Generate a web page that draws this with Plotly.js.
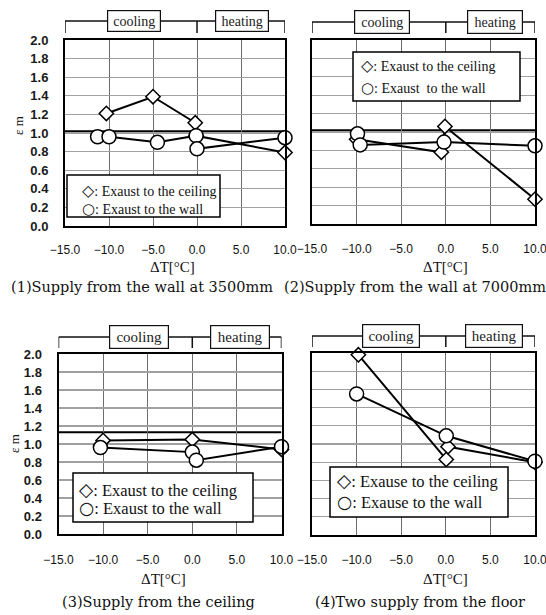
<!DOCTYPE html>
<html><head><meta charset="utf-8">
<script src="https://cdn.plot.ly/plotly-3.0.1.min.js"></script>
<style>html,body{margin:0;padding:0;background:#fff;}#chart{width:546px;height:615px;}</style>
</head><body><div id="chart"></div>
<script>
// ---------------- data ----------------
const xTickVals = [-15, -10, -5, 0, 5, 10];
const xTickText = ['\u221215.0', '\u221210.0', '\u22125.0', '0.0', '5.0', '10.0'];
const yTickVals = [0, 0.2, 0.4, 0.6, 0.8, 1.0, 1.2, 1.4, 1.6, 1.8, 2.0];
const yTickText = ['0.0', '0.2', '0.4', '0.6', '0.8', '1.0', '1.2', '1.4', '1.6', '1.8', '2.0'];

// (1) Supply from the wall at 3500mm
const p1CeilX = [-10.3, -5, -0.2, -0.1, 10];
const p1CeilY = [1.21, 1.39, 1.11, 0.97, 0.79];
const p1WallX = [-11.3, -10, -4.5, -0.1, 0, 10];
const p1WallY = [0.96, 0.96, 0.90, 0.97, 0.83, 0.95];

// (2) Supply from the wall at 7000mm
const p2CeilX = [-10, -0.5, -0.1, 10];
const p2CeilY = [0.92, 0.78, 1.06, 0.27];
const p2WallX = [-9.9, -9.6, -0.2, 10];
const p2WallY = [0.98, 0.86, 0.89, 0.85];

// (3) Supply from the ceiling
const p3CeilX = [-10, 0, 10];
const p3CeilY = [1.04, 1.05, 0.94];
const p3WallX = [-10.3, 0, 0.45, 10];
const p3WallY = [0.96, 0.91, 0.82, 0.97];

// (4) Two supply from the floor
const p4CeilX = [-9.8, 0.05, 0.25, 10];
const p4CeilY = [1.98, 0.83, 0.97, 0.80];
const p4WallX = [-10, 0.05, 10];
const p4WallY = [1.55, 1.09, 0.81];

const refLineY = [1.02, 1.02, 1.13, 1.0];

const captions = ['(1)Supply from the wall at 3500mm', '(2)Supply from the wall at 7000mm',
                  '(3)Supply from the ceiling', '(4)Two supply from the floor'];
const legendCeil = [': Exaust to the ceiling', ': Exaust to the ceiling',
                    ': Exaust to the ceiling', ': Exause to the ceiling'];
const legendWall = [': Exaust to the wall', ': Exaust  to the wall',
                    ': Exaust to the wall', ': Exause to the wall'];
const symCeil = '\u25C7';
const symWall = '\u25CB';
const xTitle = '\u0394T[\u00B0C]';
const yTitle = '\u03B5 m';
const phaseLabels = ['cooling', 'heating'];

const series = [
  {cx: p1CeilX, cy: p1CeilY, wx: p1WallX, wy: p1WallY},
  {cx: p2CeilX, cy: p2CeilY, wx: p2WallX, wy: p2WallY},
  {cx: p3CeilX, cy: p3CeilY, wx: p3WallX, wy: p3WallY},
  {cx: p4CeilX, cy: p4CeilY, wx: p4WallX, wy: p4WallY}
];

// ---------------- layout geometry (pixels) ----------------
const W = 546, H = 615;
const fx = p => p / W;
const fy = p => 1 - p / H;
const panels = [
  {L:65, R:285, T:40, B:226, br:21, brB:33, coolX:-7.2, heatX:5.1, boxFont:14, boxW:48, boxH:16,
   leg:{x0:67, y0:175, x1:220, y1:217, r1:190, r2:209, tx:80, size:14},
   cap:{x:142, y:287}, xt:{x:172, y:267}, yt:{x:19, y:126}, showY:true, xstand:12},
  {L:312, R:535, T:40, B:224, br:22, brB:33, coolX:-7.2, heatX:5.5, boxFont:14, boxW:50, boxH:18,
   leg:{x0:353, y0:52, x1:520, y1:101, r1:66, r2:88, tx:359, size:14},
   cap:{x:415, y:287}, xt:{x:445, y:267}, yt:null, showY:false, xstand:13},
  {L:58.5, R:281.5, T:354, B:534, br:337, brB:348, coolX:-6.0, heatX:5.35, boxFont:15, boxW:54, boxH:18,
   leg:{x0:73, y0:473, x1:253, y1:522, r1:489, r2:508, tx:77, size:16.5},
   cap:{x:158, y:602}, xt:{x:163, y:579}, yt:{x:14, y:444}, showY:true, xstand:14},
  {L:312, R:535, T:353, B:535, br:336, brB:347, coolX:-6.2, heatX:5.4, boxFont:15, boxW:52, boxH:18,
   leg:{x0:330, y0:467, x1:508, y1:517, r1:480, r2:502, tx:335, size:16.5},
   cap:{x:420, y:602}, xt:{x:445, y:579}, yt:null, showY:false, xstand:13}
];

const traces = [];
const layout = {
  width: W, height: H, margin: {l:0, r:0, t:0, b:0},
  paper_bgcolor: '#fff', plot_bgcolor: '#fff', showlegend: false,
  shapes: [], annotations: []
};

panels.forEach((p, i) => {
  const n = i === 0 ? '' : String(i + 1);
  const xa = 'x' + n, ya = 'y' + n;
  const s = series[i];
  traces.push({
    x: s.cx, y: s.cy, xaxis: xa, yaxis: ya, type: 'scatter', mode: 'lines+markers',
    name: legendCeil[i], cliponaxis: false,
    line: {color: '#000', width: 2},
    marker: {symbol: 'diamond', size: 11, color: '#fff', line: {color: '#000', width: 1.5}}
  });
  traces.push({
    x: s.wx, y: s.wy, xaxis: xa, yaxis: ya, type: 'scatter', mode: 'lines+markers',
    name: legendWall[i], cliponaxis: false,
    line: {color: '#000', width: 2},
    marker: {symbol: 'circle', size: 14, color: '#fff', line: {color: '#000', width: 1.5}}
  });
  layout['xaxis' + n] = {
    domain: [fx(p.L), fx(p.R)], anchor: ya, range: [-15, 10], fixedrange: true,
    tickmode: 'array', tickvals: xTickVals, ticktext: xTickText, ticks: '',
    ticklabelstandoff: p.xstand, ticklabeloverflow: 'allow',
    tickfont: {family: 'Liberation Sans, Arial, sans-serif', size: 12, color: '#111'},
    showgrid: true, gridcolor: '#6e6e6e', gridwidth: 1, zeroline: false,
    showline: true, linecolor: '#000', linewidth: 2, mirror: true
  };
  layout['yaxis' + n] = {
    domain: [fy(p.B), fy(p.T)], anchor: xa, range: [0, 2], fixedrange: true,
    tickmode: 'array', tickvals: yTickVals, ticktext: yTickText, ticks: '',
    showticklabels: p.showY, ticklabelstandoff: 12, ticklabeloverflow: 'allow',
    tickfont: {family: 'Liberation Sans, Arial, sans-serif', size: 13, color: '#1a1a1a', weight: 'bold'},
    showgrid: true, gridcolor: '#a0a0a0', gridwidth: 1.2, zeroline: false,
    showline: true, linecolor: '#000', linewidth: 2, mirror: true
  };
  // thick reference line
  layout.shapes.push({type: 'line', xref: xa, yref: ya, x0: -15, x1: 10, y0: refLineY[i], y1: refLineY[i],
    line: {color: '#000', width: 2}, layer: 'below'});
  // top bracket
  const bl = {color: '#111', width: 1.5};
  layout.shapes.push({type: 'line', xref: xa, yref: 'paper', x0: -15, x1: 10, y0: fy(p.br), y1: fy(p.br), line: bl});
  [-15, 0, 10].forEach(v => {
    layout.shapes.push({type: 'line', xref: xa, yref: 'paper', x0: v, x1: v, y0: fy(p.br), y1: fy(p.brB), line: bl});
  });
  [[p.coolX, phaseLabels[0]], [p.heatX, phaseLabels[1]]].forEach(([xv, t]) => {
    layout.annotations.push({xref: xa, yref: 'paper', x: xv, y: fy(p.br), text: t, showarrow: false,
      xanchor: 'center', yanchor: 'middle', width: p.boxW, height: p.boxH, borderpad: 2,
      bgcolor: '#fff', bordercolor: '#111', borderwidth: 1.2,
      font: {family: 'Liberation Serif, serif', size: p.boxFont, color: '#222'}});
  });
  // legend box
  const g = p.leg;
  layout.shapes.push({type: 'rect', xref: 'paper', yref: 'paper', x0: fx(g.x0), x1: fx(g.x1),
    y0: fy(g.y1), y1: fy(g.y0), line: {color: '#000', width: 1.5}, fillcolor: '#fff', layer: 'above'});
  [[g.r1, symCeil, legendCeil[i], g.size + 2], [g.r2, symWall, legendWall[i], g.size + 1]].forEach(([yy, sym, t, ss]) => {
    layout.annotations.push({xref: 'paper', yref: 'paper', x: fx(g.tx), y: fy(yy),
      text: '<span style="font-family:DejaVu Sans;font-size:' + ss + 'px">' + sym + '</span>' + t,
      showarrow: false, xanchor: 'left', yanchor: 'middle',
      font: {family: 'Liberation Serif, serif', size: g.size, color: '#111'}});
  });
  // axis titles
  layout.annotations.push({xref: 'paper', yref: 'paper', x: fx(p.xt.x), y: fy(p.xt.y), text: xTitle,
    showarrow: false, xanchor: 'center', yanchor: 'middle',
    font: {family: 'Liberation Serif, serif', size: 15, color: '#111'}});
  if (p.yt) {
    layout.annotations.push({xref: 'paper', yref: 'paper', x: fx(p.yt.x), y: fy(p.yt.y), text: yTitle,
      showarrow: false, xanchor: 'center', yanchor: 'middle', textangle: -90,
      font: {family: 'Liberation Serif, serif', size: 13, color: '#111'}});
  }
  // caption
  layout.annotations.push({xref: 'paper', yref: 'paper', x: fx(p.cap.x), y: fy(p.cap.y), text: captions[i],
    showarrow: false, xanchor: 'center', yanchor: 'middle',
    font: {family: 'DejaVu Serif, serif', size: 14.5, color: '#111'}});
});

Plotly.newPlot('chart', traces, layout, {displayModeBar: false, staticPlot: true});
</script>
</body></html>
